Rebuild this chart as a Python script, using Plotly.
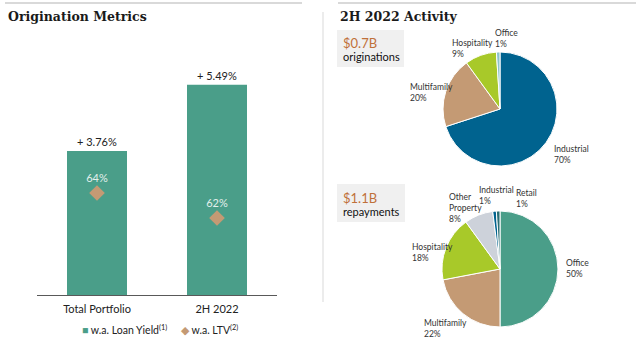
import plotly.graph_objects as go

W, H = 640, 341

# ---- data ----
bar_categories = ["Total Portfolio", "2H 2022"]
loan_yield = [3.76, 5.49]
ltv = [64, 62]
legend_names = ["w.a. Loan Yield<sup>(1)</sup>", "w.a. LTV<sup>(2)</sup>"]

orig_labels = ["Industrial", "Multifamily", "Hospitality", "Office"]
orig_values = [70, 20, 9, 1]
orig_colors = ["#00638f", "#c49a74", "#a8c929", "#8cc3cc"]

repay_labels = ["Office", "Multifamily", "Hospitality", "Other Property", "Industrial", "Retail"]
repay_values = [50, 22, 18, 8, 1, 1]
repay_colors = ["#4a9e89", "#c49a74", "#a8c929", "#cdd2da", "#00638f", "#2a6f73"]

TEAL = "#4a9e89"
TAN = "#c49a74"
ORANGE = "#c0703a"

def px(x):
    return x / W

def py(y):
    return 1 - y / H

fig = go.Figure()

# bars
fig.add_trace(go.Bar(
    x=bar_categories, y=loan_yield, name=legend_names[0], showlegend=False,
    marker=dict(color=TEAL, line=dict(width=0)), width=0.5,
    texttemplate="+ %{y:.2f}%", textposition="outside",
    textfont=dict(size=11, color="#222222", family="Lato"),
    cliponaxis=False, xaxis="x", yaxis="y",
))
# diamonds
fig.add_trace(go.Scatter(
    x=bar_categories, y=ltv, name=legend_names[1], mode="markers", showlegend=False,
    marker=dict(symbol="diamond", size=12, color=TAN),
    xaxis="x", yaxis="y2",
))
fig.add_trace(go.Scatter(
    x=bar_categories, y=ltv, mode="markers+text", showlegend=False,
    marker=dict(size=12, opacity=0),
    text=[f"{v}%" for v in ltv], textposition="top center",
    textfont=dict(size=11, color="#e2f0ec", family="Lato"),
    xaxis="x", yaxis="y2", cliponaxis=False, hoverinfo="skip",
))

# pies
fig.add_trace(go.Pie(
    labels=orig_labels, values=orig_values, sort=False, direction="clockwise",
    rotation=0, marker=dict(colors=orig_colors, line=dict(color="white", width=1)),
    textinfo="none", hoverinfo="label+percent", showlegend=False,
    domain=dict(x=[px(443), px(557)], y=[py(166), py(52)]),
))
fig.add_trace(go.Pie(
    labels=repay_labels, values=repay_values, sort=False, direction="clockwise",
    rotation=0, marker=dict(colors=repay_colors, line=dict(color="white", width=1)),
    textinfo="none", hoverinfo="label+percent", showlegend=False,
    domain=dict(x=[px(442), px(558)], y=[py(327), py(211)]),
))

annotations = []
LF = dict(family="Lato", size=8.5, color="#333333")

orig_pos = {"Office": (493, 38), "Hospitality": (450, 49), "Multifamily": (408, 92), "Industrial": (552, 154)}
for lab, val in zip(orig_labels, orig_values):
    x, y = orig_pos[lab]
    annotations.append(dict(x=px(x), y=py(y), xref="paper", yref="paper", xanchor="left", yanchor="middle",
                            text=f"{lab}<br>{val}%", showarrow=False, align="left", font=LF))

repay_pos = {"Industrial": (477, 195), "Retail": (514, 198), "Other Property": (447, 208),
             "Hospitality": (410, 252), "Office": (564, 268), "Multifamily": (422, 328)}
for lab, val in zip(repay_labels, repay_values):
    x, y = repay_pos[lab]
    txt = lab.replace(" ", "<br>") + f"<br>{val}%"
    annotations.append(dict(x=px(x), y=py(y), xref="paper", yref="paper", xanchor="left", yanchor="middle",
                            text=txt, showarrow=False, align="left", font=LF))

# titles
TF = dict(family="DejaVu Serif", size=12.5, color="#1a1a1a")
annotations.append(dict(x=px(6), y=py(17), xref="paper", yref="paper", xanchor="left", yanchor="middle",
                        text="<b>Origination Metrics</b>", showarrow=False, font=TF))
annotations.append(dict(x=px(338), y=py(17), xref="paper", yref="paper", xanchor="left", yanchor="middle",
                        text="<b>2H 2022 Activity</b>", showarrow=False, font=TF))

# legend (custom)
LG = dict(family="Lato", size=10.5, color="#222222")
annotations.append(dict(x=px(80), y=py(329), xref="paper", yref="paper", xanchor="left", yanchor="middle",
                        text=f"<span style='color:{TEAL}'>■</span> {legend_names[0]}", showarrow=False, font=LG))
annotations.append(dict(x=px(179), y=py(329), xref="paper", yref="paper", xanchor="left", yanchor="middle",
                        text=f"<span style='color:{TAN}'>◆</span> {legend_names[1]}", showarrow=False, font=LG))

# boxes text
for (amt, lbl, y1, y2) in [("$0.7B", "originations", 43, 57), ("$1.1B", "repayments", 198, 211)]:
    annotations.append(dict(x=px(341), y=py(y1), xref="paper", yref="paper", xanchor="left", yanchor="middle",
                            text=amt, showarrow=False, font=dict(family="Lato", size=13, color=ORANGE)))
    annotations.append(dict(x=px(341), y=py(y2), xref="paper", yref="paper", xanchor="left", yanchor="middle",
                            text=lbl, showarrow=False, font=dict(family="Lato", size=11, color="#111111")))

shapes = [
    dict(type="rect", xref="paper", yref="paper", x0=px(337), x1=px(404), y0=py(67), y1=py(30),
         fillcolor="#f0f0f0", line=dict(width=0), layer="below"),
    dict(type="rect", xref="paper", yref="paper", x0=px(337), x1=px(405), y0=py(222), y1=py(184),
         fillcolor="#f0f0f0", line=dict(width=0), layer="below"),
    dict(type="line", xref="paper", yref="paper", x0=px(5), x1=px(302), y0=py(3), y1=py(3),
         line=dict(color="#d9d9d9", width=2)),
    dict(type="line", xref="paper", yref="paper", x0=px(338), x1=px(636), y0=py(3), y1=py(3),
         line=dict(color="#d9d9d9", width=2)),
    dict(type="line", xref="paper", yref="paper", x0=px(323), x1=px(323), y0=py(12), y1=py(302),
         line=dict(color="#d9d9d9", width=1)),
]

fig.update_layout(
    width=W, height=H, margin=dict(l=0, r=0, t=0, b=0),
    paper_bgcolor="white", plot_bgcolor="white", showlegend=False,
    font=dict(family="Lato", size=11, color="#222222"),
    xaxis=dict(domain=[px(37), px(277)], range=[-0.5, 1.5], showgrid=False, showline=True,
               linecolor="#595959", linewidth=1, ticks="", tickfont=dict(size=11, color="#222222"),
               ticklabelstandoff=4, anchor="y", fixedrange=True),
    yaxis=dict(domain=[py(295), py(60)], range=[0, 6.136], visible=False, fixedrange=True),
    yaxis2=dict(domain=[py(295), py(60)], range=[55.84, 74.64], overlaying="y", visible=False,
                fixedrange=True, anchor="x"),
    annotations=annotations, shapes=shapes, bargap=0.5,
)

fig.write_html("out.html")
